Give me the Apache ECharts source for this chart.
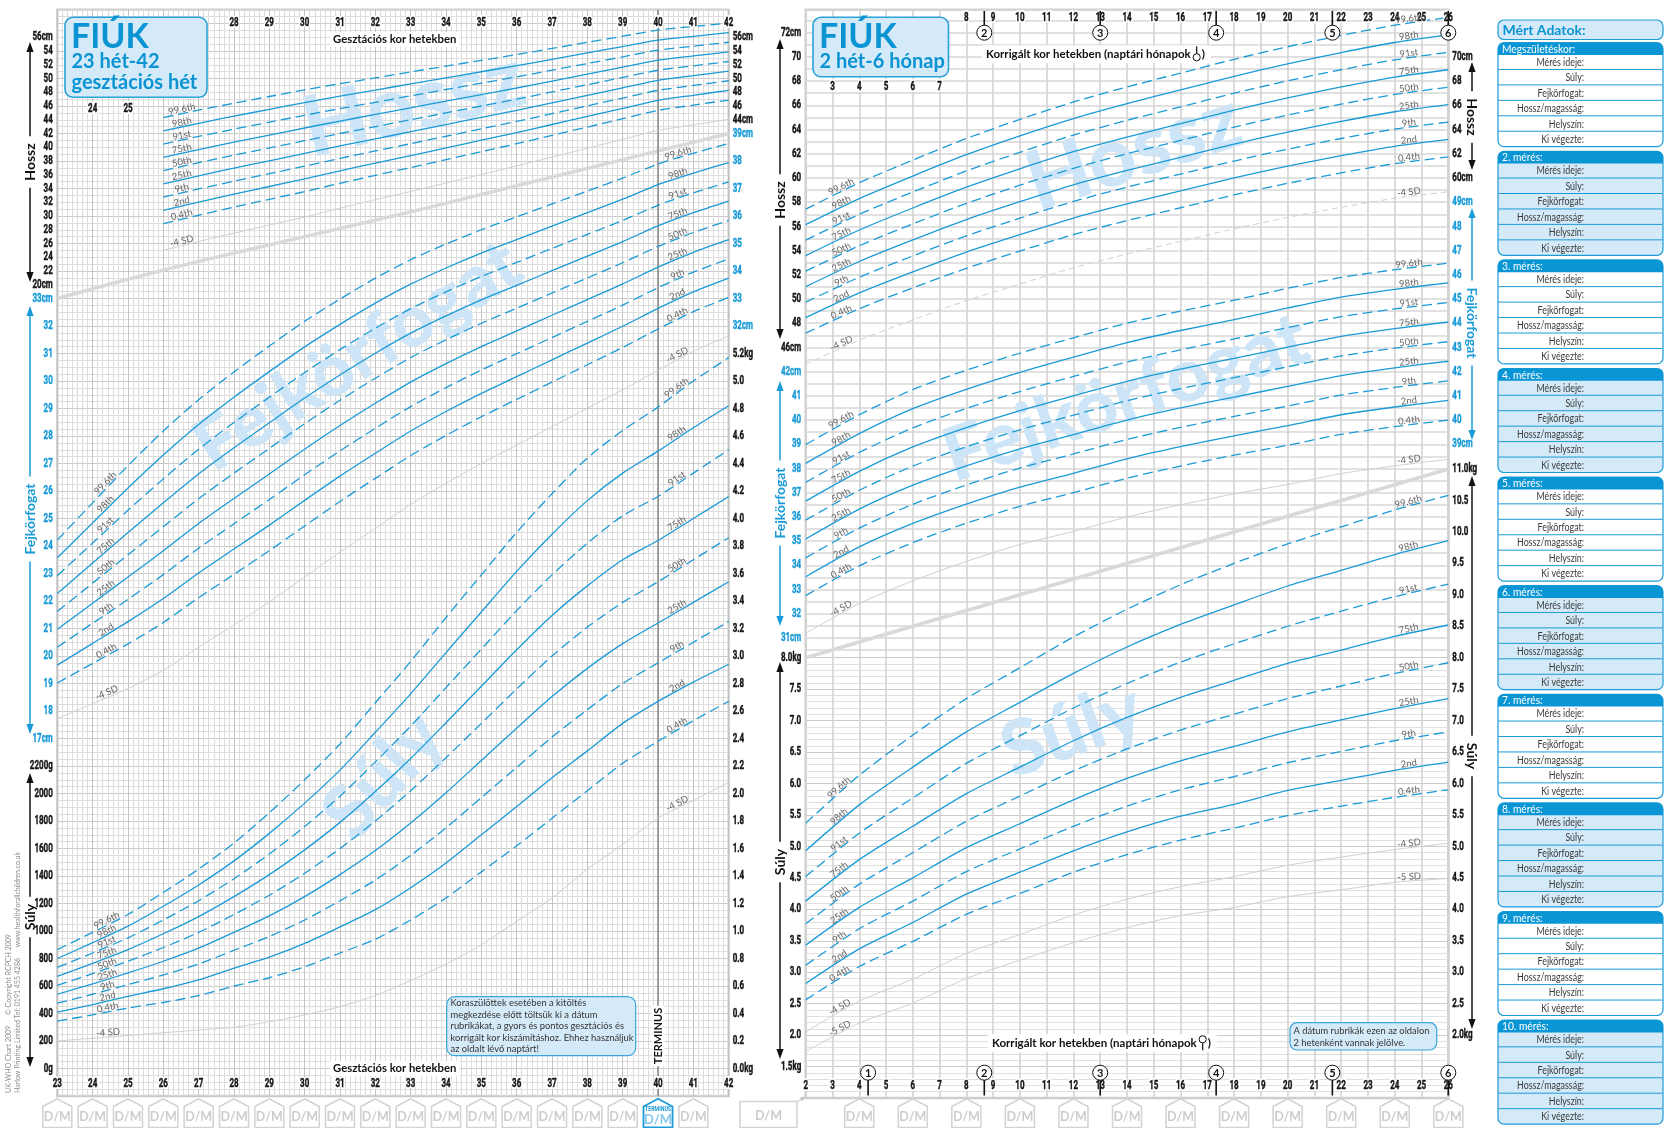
<!DOCTYPE html>
<html lang="hu">
<head>
<meta charset="utf-8">
<title>UK-WHO növekedési görbe – Fiúk</title>
<script src="https://cdn.jsdelivr.net/npm/echarts@6.0.0/dist/echarts.min.js"></script>
<style>
html, body { margin: 0; padding: 0; background: #ffffff; }
#chart { width: 1664px; height: 1128px; }
</style>
</head>
<body>
<div id="chart"></div>
<script>
// ---------------- ages ----------------
const gestWeeks = [23, 24, 25, 26, 27, 28, 29, 30, 31, 32, 33, 34, 35, 36, 37, 38, 39, 40, 41, 42];
const gestLengthWeeks = [26, 27, 28, 29, 30, 31, 32, 33, 34, 35, 36, 37, 38, 39, 40, 41, 42];
const postWeeks = [2, 4, 6, 8, 10, 12, 14, 16, 18, 20, 22, 24, 26];

// centiles, top line first
const centileNames = ['99.6th', '98th', '91st', '75th', '50th', '25th', '9th', '2nd', '0.4th'];
const centileDashed = [true, false, true, false, true, false, true, false, true];

// ---------------- 23–42 weeks gestation ----------------
// length (cm), weeks 26–42
const gestLength = [
  [44.32, 45.39, 46.41, 47.38, 48.35, 49.24, 50.08, 50.96, 51.8, 52.64, 53.48, 54.37, 55.26, 56.15, 57.04, 57.57, 58.07],
  [42.39, 43.48, 44.52, 45.51, 46.5, 47.43, 48.31, 49.22, 50.1, 50.98, 51.86, 52.79, 53.72, 54.65, 55.58, 56.14, 56.67],
  [40.46, 41.57, 42.63, 43.64, 44.65, 45.62, 46.54, 47.48, 48.4, 49.32, 50.24, 51.21, 52.18, 53.15, 54.12, 54.71, 55.27],
  [38.53, 39.66, 40.74, 41.77, 42.8, 43.81, 44.77, 45.74, 46.7, 47.66, 48.62, 49.63, 50.64, 51.65, 52.66, 53.28, 53.87],
  [36.6, 37.75, 38.85, 39.9, 40.95, 42.0, 43.0, 44.0, 45.0, 46.0, 47.0, 48.05, 49.1, 50.15, 51.2, 51.85, 52.47],
  [34.67, 35.84, 36.96, 38.03, 39.1, 40.19, 41.23, 42.26, 43.3, 44.34, 45.38, 46.47, 47.56, 48.65, 49.74, 50.42, 51.07],
  [32.74, 33.93, 35.07, 36.16, 37.25, 38.38, 39.46, 40.52, 41.6, 42.68, 43.76, 44.89, 46.02, 47.15, 48.28, 48.99, 49.67],
  [30.81, 32.02, 33.18, 34.29, 35.4, 36.57, 37.69, 38.78, 39.9, 41.02, 42.14, 43.31, 44.48, 45.65, 46.82, 47.56, 48.27],
  [28.88, 30.11, 31.29, 32.42, 33.55, 34.76, 35.92, 37.04, 38.2, 39.36, 40.52, 41.73, 42.94, 44.15, 45.36, 46.13, 46.87]
];
const gestLengthMinus4SD = [25.02, 26.29, 27.51, 28.68, 29.85, 31.14, 32.38, 33.56, 34.8, 36.04, 37.28, 38.57, 39.86, 41.15, 42.44, 43.27, 44.07];

// head circumference (cm), weeks 23–42
const gestHead = [
  [24.22, 25.57, 26.92, 28.18, 29.32, 30.33, 31.27, 32.17, 32.98, 33.74, 34.41, 34.98, 35.5, 35.97, 36.44, 36.91, 37.38, 37.89, 38.28, 38.64],
  [23.57, 24.84, 26.11, 27.31, 28.42, 29.41, 30.34, 31.24, 32.06, 32.83, 33.52, 34.11, 34.65, 35.14, 35.63, 36.12, 36.61, 37.14, 37.56, 37.94],
  [22.92, 24.11, 25.3, 26.44, 27.52, 28.49, 29.41, 30.31, 31.14, 31.92, 32.63, 33.24, 33.8, 34.31, 34.82, 35.33, 35.84, 36.39, 36.84, 37.24],
  [22.27, 23.38, 24.49, 25.57, 26.62, 27.57, 28.48, 29.38, 30.22, 31.01, 31.74, 32.37, 32.95, 33.48, 34.01, 34.54, 35.07, 35.64, 36.12, 36.54],
  [21.62, 22.65, 23.68, 24.7, 25.72, 26.65, 27.55, 28.45, 29.3, 30.1, 30.85, 31.5, 32.1, 32.65, 33.2, 33.75, 34.3, 34.89, 35.4, 35.84],
  [20.97, 21.92, 22.87, 23.83, 24.82, 25.73, 26.62, 27.52, 28.38, 29.19, 29.96, 30.63, 31.25, 31.82, 32.39, 32.96, 33.53, 34.14, 34.68, 35.14],
  [20.32, 21.19, 22.06, 22.96, 23.92, 24.81, 25.69, 26.59, 27.46, 28.28, 29.07, 29.76, 30.4, 30.99, 31.58, 32.17, 32.76, 33.39, 33.96, 34.44],
  [19.67, 20.46, 21.25, 22.09, 23.02, 23.89, 24.76, 25.66, 26.54, 27.37, 28.18, 28.89, 29.55, 30.16, 30.77, 31.38, 31.99, 32.64, 33.24, 33.74],
  [19.02, 19.73, 20.44, 21.22, 22.12, 22.97, 23.83, 24.73, 25.62, 26.46, 27.29, 28.02, 28.7, 29.33, 29.96, 30.59, 31.22, 31.89, 32.52, 33.04]
];
const gestHeadMinus4SD = [17.72, 18.27, 18.82, 19.48, 20.32, 21.13, 21.97, 22.87, 23.78, 24.64, 25.51, 26.28, 27.0, 27.67, 28.34, 29.01, 29.68, 30.39, 31.08, 31.64];

// weight (kg), weeks 23–42
const gestWeight = [
  [0.865, 0.99, 1.12, 1.28, 1.45, 1.64, 1.86, 2.1, 2.36, 2.66, 2.96, 3.28, 3.59, 3.9, 4.18, 4.44, 4.64, 4.81, 5.0, 5.17],
  [0.8, 0.915, 1.035, 1.18, 1.335, 1.51, 1.71, 1.93, 2.17, 2.445, 2.725, 3.025, 3.32, 3.615, 3.885, 4.13, 4.33, 4.49, 4.66, 4.82],
  [0.735, 0.84, 0.95, 1.08, 1.22, 1.38, 1.56, 1.76, 1.98, 2.23, 2.49, 2.77, 3.05, 3.33, 3.59, 3.82, 4.02, 4.16, 4.33, 4.5],
  [0.67, 0.765, 0.865, 0.98, 1.105, 1.25, 1.41, 1.59, 1.79, 2.015, 2.255, 2.515, 2.78, 3.045, 3.295, 3.51, 3.7, 3.84, 4.0, 4.16],
  [0.605, 0.69, 0.78, 0.88, 0.99, 1.12, 1.26, 1.42, 1.6, 1.8, 2.02, 2.26, 2.51, 2.76, 3.0, 3.21, 3.39, 3.54, 3.7, 3.86],
  [0.54, 0.615, 0.695, 0.78, 0.875, 0.99, 1.11, 1.25, 1.41, 1.585, 1.785, 2.005, 2.24, 2.475, 2.705, 2.91, 3.09, 3.24, 3.39, 3.54],
  [0.475, 0.54, 0.61, 0.68, 0.76, 0.86, 0.96, 1.08, 1.22, 1.37, 1.55, 1.75, 1.97, 2.19, 2.41, 2.61, 2.8, 2.95, 3.1, 3.25],
  [0.41, 0.465, 0.525, 0.58, 0.645, 0.73, 0.81, 0.91, 1.03, 1.155, 1.315, 1.495, 1.7, 1.905, 2.115, 2.31, 2.51, 2.67, 2.81, 2.94],
  [0.345, 0.39, 0.44, 0.48, 0.53, 0.6, 0.66, 0.74, 0.84, 0.94, 1.08, 1.24, 1.43, 1.62, 1.82, 2.02, 2.22, 2.38, 2.53, 2.67]
];
const gestWeightMinus4SD = [0.2, 0.22, 0.24, 0.26, 0.28, 0.3, 0.34, 0.39, 0.45, 0.53, 0.64, 0.76, 0.9, 1.07, 1.24, 1.45, 1.63, 1.82, 1.95, 2.08];

// upper edge of the head-circumference area (cm)
const gestBoundaryWeeks = [23, 25, 27, 30, 33, 36, 39, 42];
const gestBoundaryHead = [33.0, 33.7, 34.35, 35.25, 36.15, 37.1, 38.05, 39.0];

// ---------------- 2 weeks – 6 months ----------------
const postLength = [
  [57.42, 59.6, 61.48, 63.26, 64.84, 66.28, 67.52, 68.66, 69.8, 70.84, 71.78, 72.62, 73.26],
  [56.14, 58.3, 60.16, 61.92, 63.48, 64.91, 66.14, 67.27, 68.4, 69.43, 70.36, 71.19, 71.82],
  [54.86, 57.0, 58.84, 60.58, 62.12, 63.54, 64.76, 65.88, 67.0, 68.02, 68.94, 69.76, 70.38],
  [53.58, 55.7, 57.52, 59.24, 60.76, 62.17, 63.38, 64.49, 65.6, 66.61, 67.52, 68.33, 68.94],
  [52.3, 54.4, 56.2, 57.9, 59.4, 60.8, 62.0, 63.1, 64.2, 65.2, 66.1, 66.9, 67.5],
  [51.02, 53.1, 54.88, 56.56, 58.04, 59.43, 60.62, 61.71, 62.8, 63.79, 64.68, 65.47, 66.06],
  [49.74, 51.8, 53.56, 55.22, 56.68, 58.06, 59.24, 60.32, 61.4, 62.38, 63.26, 64.04, 64.62],
  [48.46, 50.5, 52.24, 53.88, 55.32, 56.69, 57.86, 58.93, 60.0, 60.97, 61.84, 62.61, 63.18],
  [47.18, 49.2, 50.92, 52.54, 53.96, 55.32, 56.48, 57.54, 58.6, 59.56, 60.42, 61.18, 61.74]
];
const postLengthMinus4SD = [44.62, 46.6, 48.28, 49.86, 51.24, 52.58, 53.72, 54.76, 55.8, 56.74, 57.58, 58.32, 58.86];

const postHead = [
  [38.99, 40.22, 41.26, 42.06, 42.76, 43.4, 44.0, 44.5, 44.95, 45.44, 45.89, 46.21, 46.48],
  [38.21, 39.44, 40.47, 41.27, 41.97, 42.6, 43.2, 43.7, 44.15, 44.63, 45.08, 45.4, 45.67],
  [37.43, 38.66, 39.68, 40.48, 41.18, 41.8, 42.4, 42.9, 43.35, 43.82, 44.27, 44.59, 44.86],
  [36.65, 37.88, 38.89, 39.69, 40.39, 41.0, 41.6, 42.1, 42.55, 43.01, 43.46, 43.78, 44.05],
  [35.87, 37.1, 38.1, 38.9, 39.6, 40.2, 40.8, 41.3, 41.75, 42.2, 42.65, 42.97, 43.24],
  [35.09, 36.32, 37.31, 38.11, 38.81, 39.4, 40.0, 40.5, 40.95, 41.39, 41.84, 42.16, 42.43],
  [34.31, 35.54, 36.52, 37.32, 38.02, 38.6, 39.2, 39.7, 40.15, 40.58, 41.03, 41.35, 41.62],
  [33.53, 34.76, 35.73, 36.53, 37.23, 37.8, 38.4, 38.9, 39.35, 39.77, 40.22, 40.54, 40.81],
  [32.75, 33.98, 34.94, 35.74, 36.44, 37.0, 37.6, 38.1, 38.55, 38.96, 39.41, 39.73, 40.0]
];
const postHeadMinus4SD = [31.19, 32.42, 33.36, 34.16, 34.86, 35.4, 36.0, 36.5, 36.95, 37.34, 37.79, 38.11, 38.38];

const postWeight = [
  [5.37, 6.13, 6.77, 7.35, 7.84, 8.33, 8.77, 9.16, 9.5, 9.81, 10.08, 10.35, 10.58],
  [4.93, 5.66, 6.26, 6.82, 7.29, 7.75, 8.17, 8.53, 8.84, 9.14, 9.39, 9.64, 9.86],
  [4.52, 5.21, 5.77, 6.32, 6.76, 7.2, 7.59, 7.93, 8.22, 8.5, 8.74, 8.97, 9.17],
  [4.13, 4.79, 5.32, 5.84, 6.26, 6.68, 7.05, 7.37, 7.64, 7.91, 8.12, 8.34, 8.52],
  [3.77, 4.4, 4.9, 5.4, 5.8, 6.2, 6.55, 6.85, 7.1, 7.35, 7.55, 7.75, 7.92],
  [3.43, 4.03, 4.5, 4.98, 5.36, 5.74, 6.08, 6.36, 6.59, 6.82, 7.01, 7.19, 7.35],
  [3.11, 3.69, 4.13, 4.6, 4.96, 5.32, 5.64, 5.9, 6.11, 6.33, 6.51, 6.68, 6.82],
  [2.82, 3.37, 3.79, 4.24, 4.59, 4.93, 5.23, 5.48, 5.67, 5.89, 6.05, 6.21, 6.34],
  [2.56, 3.09, 3.49, 3.92, 4.25, 4.59, 4.87, 5.1, 5.29, 5.49, 5.64, 5.78, 5.9]
];
const postWeightMinus4SD = [2.05, 2.54, 2.89, 3.3, 3.6, 3.91, 4.16, 4.36, 4.52, 4.7, 4.83, 4.95, 5.05];
const postWeightMinus5SD = [1.74, 2.19, 2.51, 2.9, 3.19, 3.47, 3.71, 3.9, 4.03, 4.2, 4.31, 4.43, 4.49];

// upper edge of the weight area (kg)
const postBoundaryWeeks = [2, 26];
const postBoundaryKg = [8.0, 11.0];

// term line, date boxes and month markers
const termWeek = [40, 40];
const termSpanKg = [-0.2, 7.7];
const gestDateWeeks = [23, 24, 25, 26, 27, 28, 29, 30, 31, 32, 33, 34, 35, 36, 37, 38, 39, 40, 41];
const postDateWeeks = [4, 6, 8, 10, 12, 14, 16, 18, 20, 22, 24, 26];
const monthWeeks = [4.33, 8.67, 13, 17.33, 21.67, 26];
const monthNumbers = [1, 2, 3, 4, 5, 6];
const topMonthNumbers = [2, 3, 4, 5, 6];

// ---------------- tick labels ----------------
const gestBottomTicks = [23, 24, 25, 26, 27, 28, 29, 30, 31, 32, 33, 34, 35, 36, 37, 38, 39, 40, 41, 42];
const gestTopTicks = [28, 29, 30, 31, 32, 33, 34, 35, 36, 37, 38, 39, 40, 41, 42];
const gestInsetTicks = [24, 25];
const postBottomTicks = [2, 3, 4, 5, 6, 7, 8, 9, 10, 11, 12, 13, 14, 15, 16, 17, 18, 19, 20, 21, 22, 23, 24, 25, 26];
const postTopTicks = [8, 9, 10, 11, 12, 13, 14, 15, 16, 17, 18, 19, 20, 21, 22, 23, 24, 25, 26];
const postInsetTicks = [3, 4, 5, 6, 7];

const gestLengthLeftTicks = [20, 22, 24, 26, 28, 30, 32, 34, 36, 38, 40, 42, 44, 46, 48, 50, 52, 54, 56];
const gestLengthRightTicks = [44, 46, 48, 50, 52, 54, 56];
const gestHeadLeftTicks = [17, 18, 19, 20, 21, 22, 23, 24, 25, 26, 27, 28, 29, 30, 31, 32, 33];
const gestHeadRightTicks = [32, 33, 34, 35, 36, 37, 38, 39];
const gestGramTicks = [0, 200, 400, 600, 800, 1000, 1200, 1400, 1600, 1800, 2000, 2200];
const gestKgTicks = [0, 0.2, 0.4, 0.6, 0.8, 1.0, 1.2, 1.4, 1.6, 1.8, 2.0, 2.2, 2.4, 2.6, 2.8, 3.0, 3.2, 3.4, 3.6, 3.8, 4.0, 4.2, 4.4, 4.6, 4.8, 5.0, 5.2];
const postLengthLeftTicks = [46, 48, 50, 52, 54, 56, 58, 60, 62, 64, 66, 68, 70, 72];
const postLengthRightTicks = [60, 62, 64, 66, 68, 70];
const postHeadLeftTicks = [31, 32, 33, 34, 35, 36, 37, 38, 39, 40, 41, 42];
const postHeadRightTicks = [39, 40, 41, 42, 43, 44, 45, 46, 47, 48, 49];
const postKgLeftTicks = [1.5, 2.0, 2.5, 3.0, 3.5, 4.0, 4.5, 5.0, 5.5, 6.0, 6.5, 7.0, 7.5, 8.0];
const postKgRightTicks = [2.0, 2.5, 3.0, 3.5, 4.0, 4.5, 5.0, 5.5, 6.0, 6.5, 7.0, 7.5, 8.0, 8.5, 9.0, 9.5, 10.0, 10.5, 11.0];

// record sheet
const recordTitles = ['Megszületéskor:', '2. mérés:', '3. mérés:', '4. mérés:', '5. mérés:', '6. mérés:', '7. mérés:', '8. mérés:', '9. mérés:', '10. mérés:'];
const recordFields = ['Mérés ideje:', 'Súly:', 'Fejkörfogat:', 'Hossz/magasság:', 'Helyszín:', 'Ki végezte:'];

// ---------------- styling ----------------
const NUM_FAMILY = "Roboto,'Open Sans',sans-serif";
const TXT_FONT = "Lato,'Open Sans',sans-serif";
const TICK_FONT = 'bold 12.5px ' + NUM_FAMILY;
const TICK_SCALE = 0.64;
const BLUE = '#1a9bd7';
const DARK_BLUE = '#0b94d3';
const PALE = '#d5eaf8';
const SD_GREY = '#d0d0d0';

// panel frames (pixels)
const LP = { left: 57.3, top: 9.75, width: 671.4, height: 1086.25 };
const RP = { left: 805.7, top: 9.83, width: 642.6, height: 1088.17 };
// scales spanning each whole panel
const L_KG = [-0.2, 7.7], L_LEN = [-98, 60], L_HEAD = [4, 43.5], L_G = [-200, 7700];
const R_KG = [1, 18.3], R_LEN = [-16, 73.889], R_HEAD = [12, 56.944];
const R_BG_TOP = [20, R_LEN[1]], R_BG_BOT = [1, 8];
const rPxPerCm = RP.height / (R_LEN[1] - R_LEN[0]);
const rPxPerKg = RP.height / (R_KG[1] - R_KG[0]);
const rTopBg = { top: RP.top, height: (R_BG_TOP[1] - R_BG_TOP[0]) * rPxPerCm };
const rBotBg = { top: RP.top + (R_KG[1] - R_BG_BOT[1]) * rPxPerKg, height: (R_BG_BOT[1] - R_BG_BOT[0]) * rPxPerKg };

function xAx(grid, pos, range, extra) {
  return Object.assign({
    type: 'value', gridIndex: grid, position: pos, min: range[0], max: range[1], interval: 1,
    axisLine: { show: false }, axisTick: { show: false }, splitLine: { show: false }, axisLabel: { show: false }
  }, extra || {});
}
function yAx(grid, range, interval, extra) {
  return Object.assign({
    type: 'value', gridIndex: grid, min: range[0], max: range[1], interval: interval,
    axisLine: { show: false }, axisTick: { show: false }, splitLine: { show: false }, axisLabel: { show: false }
  }, extra || {});
}

// axis indices
const X_L = 0, X_R = 1;
const Y_L_KG = 0, Y_L_LEN = 1, Y_L_HEAD = 2, Y_L_G = 3, Y_R_KG = 4, Y_R_LEN = 5, Y_R_HEAD = 6;

const xAxes = [
  xAx(0, 'bottom', [23, 42], {
    splitLine: { show: true, lineStyle: { color: '#c3c3c3', width: 1 } },
    minorTick: { show: false, splitNumber: 7 },
    minorSplitLine: { show: true, lineStyle: { color: '#dcdcdc', width: 1 } }
  }),
  xAx(1, 'bottom', [2, 26], {
    splitLine: { show: true, lineStyle: { color: '#d3d3d3', width: 1.6 } }
  }),
  xAx(2, 'bottom', [2, 26]),
  xAx(3, 'bottom', [2, 26])
];

const yAxes = [
  yAx(0, L_KG, 0.2, {
    splitLine: { show: true, lineStyle: { color: '#c9c9c9', width: 1 } },
    minorTick: { show: false, splitNumber: 4 },
    minorSplitLine: { show: true, lineStyle: { color: '#dedede', width: 1 } }
  }),
  yAx(0, L_LEN, 2),
  yAx(0, L_HEAD, 1),
  yAx(0, L_G, 200),
  yAx(1, R_KG, 0.5),
  yAx(1, R_LEN, 2),
  yAx(1, R_HEAD, 1),
  // background rulings of the right panel
  yAx(2, R_BG_TOP, 1, {
    splitLine: { show: true, showMinLine: false, lineStyle: { color: '#d7d7d7', width: 1.6 } }
  }),
  yAx(3, R_BG_BOT, 0.5, {
    splitLine: { show: true, lineStyle: { color: '#cbcbcb', width: 1.2 } },
    minorTick: { show: false, splitNumber: 5 },
    minorSplitLine: { show: true, lineStyle: { color: '#e0e0e0', width: 1 } }
  })
];

// ---------------- series ----------------
const series = [];
function curve(xi, yi, weeks, vals, style) {
  series.push({
    type: 'line', xAxisIndex: xi, yAxisIndex: yi, silent: true, symbol: 'none',
    smooth: style.smooth === false ? false : 0.25, z: style.z || 3, clip: false,
    data: weeks.map((w, i) => [w, vals[i]]),
    lineStyle: { color: style.color, width: style.width, type: style.type || 'solid', cap: 'butt' }
  });
}
function family(xi, yi, weeks, rows) {
  rows.forEach((row, k) => curve(xi, yi, weeks, row, {
    color: BLUE, width: 1.3, type: centileDashed[k] ? [10, 5] : 'solid'
  }));
}
const sdStyle = { color: SD_GREY, width: 1, z: 2 };
const edgeStyle = { color: '#d9d9d9', width: 3.5, z: 2 };

curve(X_L, Y_L_HEAD, gestBoundaryWeeks, gestBoundaryHead, edgeStyle);
curve(X_L, Y_L_KG, termWeek, termSpanKg, { color: '#8d8d8d', width: 1.6, smooth: false, z: 2 });
family(X_L, Y_L_LEN, gestLengthWeeks, gestLength);
curve(X_L, Y_L_LEN, gestLengthWeeks, gestLengthMinus4SD, sdStyle);
family(X_L, Y_L_HEAD, gestWeeks, gestHead);
curve(X_L, Y_L_HEAD, gestWeeks, gestHeadMinus4SD, sdStyle);
family(X_L, Y_L_KG, gestWeeks, gestWeight);
curve(X_L, Y_L_KG, gestWeeks, gestWeightMinus4SD, sdStyle);

curve(X_R, Y_R_KG, postBoundaryWeeks, postBoundaryKg, Object.assign({ smooth: false }, edgeStyle));
family(X_R, Y_R_LEN, postWeeks, postLength);
curve(X_R, Y_R_LEN, postWeeks, postLengthMinus4SD, Object.assign({ type: [6, 4] }, sdStyle));
family(X_R, Y_R_HEAD, postWeeks, postHead);
curve(X_R, Y_R_HEAD, postWeeks, postHeadMinus4SD, sdStyle);
family(X_R, Y_R_KG, postWeeks, postWeight);
curve(X_R, Y_R_KG, postWeeks, postWeightMinus4SD, sdStyle);
curve(X_R, Y_R_KG, postWeeks, postWeightMinus5SD, sdStyle);

const option = {
  animation: false,
  backgroundColor: '#ffffff',
  grid: [
    Object.assign({ show: true, borderColor: '#d0d0d0', borderWidth: 2.5, backgroundColor: 'rgba(0,0,0,0)' }, LP),
    Object.assign({ show: true, borderColor: '#d0d0d0', borderWidth: 2.5, backgroundColor: 'rgba(0,0,0,0)' }, RP),
    { left: RP.left, width: RP.width, top: rTopBg.top, height: rTopBg.height },
    { left: RP.left, width: RP.width, top: rBotBg.top, height: rBotBg.height }
  ],
  xAxis: xAxes,
  yAxis: yAxes,
  series: series
};

const chart = echarts.init(document.getElementById('chart'), null, { renderer: 'canvas' });
chart.setOption(option);

// ---------------- annotations ----------------
const mctx = document.createElement('canvas').getContext('2d');
function textWidth(str, font) { mctx.font = font; return mctx.measureText(str).width; }
const toPx = (xi, yi, x, y) => chart.convertToPixel({ xAxisIndex: xi, yAxisIndex: yi }, [x, y]);
const toX = (xi, x) => chart.convertToPixel({ xAxisIndex: xi }, x);
const toY = (yi, y) => chart.convertToPixel({ yAxisIndex: yi }, y);

function valueAt(weeks, vals, x) {
  for (let i = 0; i < weeks.length - 1; i++) {
    if (x >= weeks[i] && x <= weeks[i + 1]) {
      const t = (x - weeks[i]) / (weeks[i + 1] - weeks[i]);
      return vals[i] + t * (vals[i + 1] - vals[i]);
    }
  }
  return x < weeks[0] ? vals[0] : vals[vals.length - 1];
}

const g = [];
function txt(x, y, text, font, fill, opts) {
  g.push(Object.assign({
    type: 'text', x: x, y: y, silent: true, z: 20,
    style: Object.assign({ text: text, font: font, fill: fill, align: 'left', verticalAlign: 'middle' }, (opts && opts.style) || {})
  }, opts && opts.el ? opts.el : {}));
}
function rect(x, y, w, h, r, fill, stroke, lw, z) {
  g.push({ type: 'rect', silent: true, z: z || 15, shape: { x: x, y: y, width: w, height: h, r: r },
    style: { fill: fill, stroke: stroke, lineWidth: lw || 1 } });
}
function seg(x1, y1, x2, y2, stroke, lw, z) {
  g.push({ type: 'line', silent: true, z: z || 15, shape: { x1: x1, y1: y1, x2: x2, y2: y2 },
    style: { stroke: stroke, lineWidth: lw || 1 } });
}
function poly(points, fill, stroke, lw, z) {
  g.push({ type: 'polygon', silent: true, z: z || 15, shape: { points: points },
    style: { fill: fill, stroke: stroke || null, lineWidth: lw || 1 } });
}

// scale numbers (condensed bold)
function numLabel(x, y, text, color, align, halo) {
  if (halo) {
    g.push({ type: 'text', silent: true, z: 18, x: x, y: y, scaleX: TICK_SCALE,
      style: { text: text, font: TICK_FONT, fill: '#ffffff', stroke: '#ffffff', lineWidth: 4, align: align, verticalAlign: 'middle' } });
  }
  g.push({
    type: 'text', silent: true, z: 19, x: x, y: y, scaleX: TICK_SCALE,
    style: { text: text, font: TICK_FONT, fill: color, stroke: color, lineWidth: 0.45, align: align, verticalAlign: 'middle' }
  });
}
function yScale(yi, ticks, unit, digits, side, color, panel) {
  const x = side === 'left' ? panel.left - 4.5 : panel.left + panel.width + 4;
  ticks.forEach((v, i) => {
    let s = digits ? v.toFixed(digits) : String(v);
    if (i === 0 || i === ticks.length - 1) s += unit;
    numLabel(x, toY(yi, v), s, color, side === 'left' ? 'right' : 'left', false);
  });
}
function xScale(xi, ticks, y) {
  ticks.forEach(v => numLabel(toX(xi, v), y, String(v), '#151515', 'center', true));
}
yScale(Y_L_LEN, gestLengthLeftTicks, 'cm', 0, 'left', '#151515', LP);
yScale(Y_L_HEAD, gestHeadLeftTicks, 'cm', 0, 'left', BLUE, LP);
yScale(Y_L_G, gestGramTicks, 'g', 0, 'left', '#151515', LP);
yScale(Y_L_LEN, gestLengthRightTicks, 'cm', 0, 'right', '#151515', LP);
yScale(Y_L_HEAD, gestHeadRightTicks, 'cm', 0, 'right', BLUE, LP);
yScale(Y_L_KG, gestKgTicks, 'kg', 1, 'right', '#151515', LP);
yScale(Y_R_LEN, postLengthLeftTicks, 'cm', 0, 'left', '#151515', RP);
yScale(Y_R_HEAD, postHeadLeftTicks, 'cm', 0, 'left', BLUE, RP);
yScale(Y_R_KG, postKgLeftTicks, 'kg', 1, 'left', '#151515', RP);
yScale(Y_R_LEN, postLengthRightTicks, 'cm', 0, 'right', '#151515', RP);
yScale(Y_R_HEAD, postHeadRightTicks, 'cm', 0, 'right', BLUE, RP);
yScale(Y_R_KG, postKgRightTicks, 'kg', 1, 'right', '#151515', RP);
xScale(X_L, gestBottomTicks, 1084.3);
xScale(X_L, gestTopTicks, 23.3);
xScale(X_L, gestInsetTicks, 109.3);
xScale(X_R, postBottomTicks, 1086);
xScale(X_R, postTopTicks, 18.3);
xScale(X_R, postInsetTicks, 86.7);

// centile names written along the curves
const LABEL_FONT = "9.5px " + TXT_FONT;
function curveLabel(xi, yi, weeks, vals, at, text) {
  const v = valueAt(weeks, vals, at);
  const p = toPx(xi, yi, at, v);
  const a0 = toPx(xi, yi, at - 0.3, valueAt(weeks, vals, at - 0.3));
  const a1 = toPx(xi, yi, at + 0.3, valueAt(weeks, vals, at + 0.3));
  const ang = Math.atan2(a1[1] - a0[1], a1[0] - a0[0]);
  const off = 4.5;
  g.push({
    type: 'text', silent: true, z: 20, x: p[0] + Math.sin(ang) * off, y: p[1] - Math.cos(ang) * off, rotation: -ang,
    style: { text: text, font: LABEL_FONT, fill: '#666666', align: 'center', verticalAlign: 'middle' }
  });
}
const labelSets = [
  { xi: X_L, yi: Y_L_LEN, weeks: gestLengthWeeks, rows: gestLength, sd: [gestLengthMinus4SD], at: [26.55] },
  { xi: X_L, yi: Y_L_HEAD, weeks: gestWeeks, rows: gestHead, sd: [gestHeadMinus4SD], at: [24.45, 40.6] },
  { xi: X_L, yi: Y_L_KG, weeks: gestWeeks, rows: gestWeight, sd: [gestWeightMinus4SD], at: [24.45, 40.6] },
  { xi: X_R, yi: Y_R_LEN, weeks: postWeeks, rows: postLength, sd: [postLengthMinus4SD], at: [3.4, 24.55] },
  { xi: X_R, yi: Y_R_HEAD, weeks: postWeeks, rows: postHead, sd: [postHeadMinus4SD], at: [3.4, 24.55] },
  { xi: X_R, yi: Y_R_KG, weeks: postWeeks, rows: postWeight, sd: [postWeightMinus4SD, postWeightMinus5SD], at: [3.35, 24.55] }
];
const sdNames = ['-4 SD', '-5 SD'];
labelSets.forEach(set => {
  set.at.forEach(at => {
    set.rows.forEach((row, k) => curveLabel(set.xi, set.yi, set.weeks, row, at, centileNames[k]));
    set.sd.forEach((row, k) => curveLabel(set.xi, set.yi, set.weeks, row, at, sdNames[k]));
  });
});

// watermarks
const WM = '#cde5f6';
function watermark(x, y, text, size, deg) {
  g.push({ type: 'text', silent: true, z: 1, x: x, y: y, rotation: deg * Math.PI / 180,
    style: { text: text, font: '900 ' + size + 'px ' + TXT_FONT, fill: WM, align: 'center', verticalAlign: 'middle' } });
}
watermark(414, 104, 'Hossz', 84, 14);
watermark(358, 356, 'Fejkörfogat', 72, 32);
watermark(384, 776, 'Súly', 74, 48);
watermark(1134, 152, 'Hossz', 82, 18);
watermark(1126, 398, 'Fejkörfogat', 74, 19);
watermark(1072, 731, 'Súly', 76, 20);

// vertical scale names with arrows
function scaleName(x, cy, text, color, yTop, yBot, readDown) {
  const font = 'bold 14px ' + TXT_FONT;
  const half = textWidth(text, font) / 2;
  g.push({ type: 'text', silent: true, z: 20, x: x, y: cy, rotation: readDown ? -Math.PI / 2 : Math.PI / 2,
    style: { text: text, font: font, fill: color, align: 'center', verticalAlign: 'middle' } });
  seg(x, yTop + 6, x, cy - half - 7, color, 1.5, 20);
  seg(x, cy + half + 7, x, yBot - 6, color, 1.5, 20);
  poly([[x, yTop], [x - 3.6, yTop + 10], [x + 3.6, yTop + 10]], color, null, 1, 20);
  poly([[x, yBot], [x - 3.6, yBot - 10], [x + 3.6, yBot - 10]], color, null, 1, 20);
}
scaleName(30, 162, 'Hossz', '#111', 42, 282, false);
scaleName(30, 519, 'Fejkörfogat', BLUE, 306, 734, false);
scaleName(30, 917, 'Súly', '#111', 773, 1067, false);
scaleName(780, 200, 'Hossz', '#111', 39, 339, false);
scaleName(780, 503, 'Fejkörfogat', BLUE, 381, 626, false);
scaleName(780, 862, 'Súly', '#111', 662, 1059, false);
scaleName(1472, 117, 'Hossz', '#111', 62, 170, true);
scaleName(1472, 323, 'Fejkörfogat', BLUE, 208, 440, true);
scaleName(1472, 756, 'Súly', '#111', 476, 1029, true);

// title panels
rect(65, 17.3, 142, 80, 8, PALE, '#2aa2da', 1.6, 16);
txt(71, 37, 'FIÚK', 'bold 34px ' + TXT_FONT, DARK_BLUE);
txt(71.5, 62, '23 hét-42', 'bold 20px ' + TXT_FONT, DARK_BLUE);
txt(71.5, 83, 'gesztációs hét', 'bold 20px ' + TXT_FONT, DARK_BLUE);
rect(813, 17.3, 135.5, 59.5, 8, PALE, '#2aa2da', 1.6, 16);
txt(819, 37, 'FIÚK', 'bold 34px ' + TXT_FONT, DARK_BLUE);
txt(819.5, 62, '2 hét-6 hónap', 'bold 20px ' + TXT_FONT, DARK_BLUE);

// age axis names
const GEST_FONT = 'bold 11.3px ' + TXT_FONT;
const CORR_FONT = 'bold 11.5px ' + TXT_FONT;
const whiteBox = { backgroundColor: '#ffffff', padding: [2, 3, 2, 3] };
txt(330, 39.5, 'Gesztációs kor hetekben', GEST_FONT, '#111', { style: whiteBox });
txt(330, 1068.5, 'Gesztációs kor hetekben', GEST_FONT, '#111', { style: whiteBox });
function correctedAgeName(x, y, stemUp) {
  const main = 'Korrigált kor hetekben (naptári hónapok';
  const w = textWidth(main, CORR_FONT);
  rect(x - 4, y - 9, w + 24, 18, 0, '#ffffff', null, 0, 19);
  txt(x, y, main, CORR_FONT, '#111');
  const sx = x + w + 6;
  if (stemUp) {
    g.push({ type: 'circle', silent: true, z: 21, shape: { cx: sx, cy: y + 3, r: 3.6 }, style: { fill: '#fff', stroke: '#111', lineWidth: 1 } });
    seg(sx, y - 8, sx, y - 0.6, '#111', 1.2, 21);
  } else {
    g.push({ type: 'circle', silent: true, z: 21, shape: { cx: sx, cy: y - 4, r: 3.6 }, style: { fill: '#fff', stroke: '#111', lineWidth: 1 } });
    seg(sx, y - 0.4, sx, y + 7, '#111', 1.2, 21);
  }
  txt(sx + 5, y, ')', CORR_FONT, '#111');
}
correctedAgeName(986, 54.3, true);
correctedAgeName(992, 1043.3, false);

// term marker
const termX = toX(X_L, termWeek[0]);
g.push({ type: 'text', silent: true, z: 21, x: termX, y: 1036, rotation: Math.PI / 2,
  style: { text: 'TERMINUS', font: 'bold 11px ' + TXT_FONT, fill: '#111', align: 'center', verticalAlign: 'middle',
    backgroundColor: '#ffffff', padding: [1, 2, 1, 2] } });

// date boxes
function dateHouse(cx, term) {
  const stroke = term ? BLUE : '#d2d2d2';
  poly([[cx - 14.5, 1106.5], [cx, 1098.8], [cx + 14.5, 1106.5], [cx + 14.5, 1127.5], [cx - 14.5, 1127.5]], '#ffffff', stroke, term ? 1.8 : 1.5, 15);
  if (term) {
    txt(cx, 1109, 'TERMINUS', 'bold 7px ' + NUM_FAMILY, BLUE, { style: { align: 'center' }, el: { scaleX: 0.75 } });
    txt(cx, 1119.5, 'D/M', 'bold 13px ' + TXT_FONT, '#86c8ec', { style: { align: 'center' } });
  } else {
    txt(cx, 1117, 'D/M', 'bold 12.5px ' + TXT_FONT, '#cdcdcd', { style: { align: 'center' } });
  }
}
gestDateWeeks.forEach(w => dateHouse(toX(X_L, w), w === termWeek[0]));
postDateWeeks.forEach(w => dateHouse(toX(X_R, w), false));
rect(740, 1101.5, 57, 26, 0, '#ffffff', '#d2d2d2', 1.5, 15);
txt(768.5, 1116, 'D/M', 'bold 12.5px ' + TXT_FONT, '#cdcdcd', { style: { align: 'center' } });
const cornerX = toX(X_R, postWeeks[0]);
seg(797, 1102, cornerX - 1.5, 1097.5, '#c4c4c4', 1, 15);
poly([[cornerX - 0.5, 1096.5], [cornerX - 6, 1097.6], [cornerX - 3.2, 1101.4]], '#c4c4c4', null, 1, 15);

// calendar months
function monthMark(w, num, cy, y1, y2) {
  const x = toX(X_R, w);
  seg(x, y1, x, y2, '#111', 1.6, 21);
  g.push({ type: 'circle', silent: true, z: 22, shape: { cx: x, cy: cy, r: 7.5 }, style: { fill: '#ffffff', stroke: '#111', lineWidth: 1 } });
  txt(x, cy + 0.5, String(num), 'bold 11px ' + TXT_FONT, '#111', { style: { align: 'center' }, el: { z: 23 } });
}
monthNumbers.forEach((n, i) => monthMark(monthWeeks[i], n, 1072.7, 1080, 1095.5));
topMonthNumbers.forEach(n => monthMark(monthWeeks[n - 1], n, 32.7, 11, 25.2));

// notes
function fitSize(text, weight, family, target) {
  return 10 * target / textWidth(text, weight + ' 10px ' + family);
}
const note1 = ['Koraszülöttek esetében a kitöltés', 'megkezdése előtt töltsük ki a dátum', 'rubrikákat, a gyors és pontos gesztációs és',
  'korrigált kor kiszámításhoz. Ehhez használjuk', 'az oldalt lévő naptárt!'];
const note1Size = fitSize(note1[3], 'normal', TXT_FONT, 183);
rect(446.7, 996.7, 189, 59, 8, PALE, '#3aa6dc', 1.2, 16);
note1.forEach((line, i) => txt(450.5, 1003.3 + i * 11.4, line, note1Size + 'px ' + TXT_FONT, '#333'));
const note2 = ['A dátum rubrikák ezen az oldalon', '2 hetenként vannak jelölve.'];
const note2Size = fitSize(note2[0], 'normal', TXT_FONT, 136);
rect(1290, 1022.7, 146.7, 27.3, 7, PALE, '#3aa6dc', 1.2, 16);
note2.forEach((line, i) => txt(1293.5, 1030.8 + i * 12, line, note2Size + 'px ' + TXT_FONT, '#333'));

// imprint
g.push({ type: 'text', silent: true, z: 20, x: 8.5, y: 1093, rotation: Math.PI / 2,
  style: { text: 'UK-WHO Chart 2009      © Copyright RCPCH 2009', font: '7px ' + TXT_FONT, fill: '#8c8c8c', align: 'left', verticalAlign: 'middle' } });
g.push({ type: 'text', silent: true, z: 20, x: 17.5, y: 1093, rotation: Math.PI / 2,
  style: { text: 'Harlow Printing Limited Tel: 0191 455 4286      www.healthforallchildren.co.uk', font: '7px ' + TXT_FONT, fill: '#8c8c8c', align: 'left', verticalAlign: 'middle' } });

// record sheet
const FIELD_FONT = '11.5px ' + TXT_FONT;
const fieldScale = 67 / textWidth('Hossz/magasság:', FIELD_FONT);
const HEADER_FONT = '12px ' + TXT_FONT;
const headerScale = 73 / textWidth('Megszületéskor:', HEADER_FONT);
rect(1498, 20, 165, 19.5, 6, PALE, BLUE, 1.2, 16);
txt(1502.5, 30, 'Mért Adatok:', 'bold 14px ' + TXT_FONT, DARK_BLUE);
const REC_TOP = 42.7, REC_PITCH = 108.6, HEAD_H = 11.3, ROW_H = 15.45;
recordTitles.forEach((title, i) => {
  const top = REC_TOP + i * REC_PITCH;
  const h = HEAD_H + ROW_H * recordFields.length;
  rect(1498, top, 165, h, 6, i % 2 ? PALE : '#ffffff', BLUE, 1.2, 16);
  rect(1498, top, 165, HEAD_H + 1, [6, 6, 0, 0], '#0a95d4', null, 0, 17);
  txt(1502, top + HEAD_H / 2 + 0.6, title, HEADER_FONT, '#ffffff', { el: { z: 18, scaleX: headerScale } });
  recordFields.forEach((f, j) => {
    const rowTop = top + HEAD_H + j * ROW_H;
    if (j < recordFields.length - 1) seg(1498.6, rowTop + ROW_H, 1662.4, rowTop + ROW_H, BLUE, 1, 17);
    txt(1584, rowTop + ROW_H / 2 + 0.3, f, FIELD_FONT, '#3a3a3a', { style: { align: 'right' }, el: { z: 18, scaleX: fieldScale } });
  });
});

chart.setOption({ graphic: { elements: g } });
</script>
</body>
</html>
